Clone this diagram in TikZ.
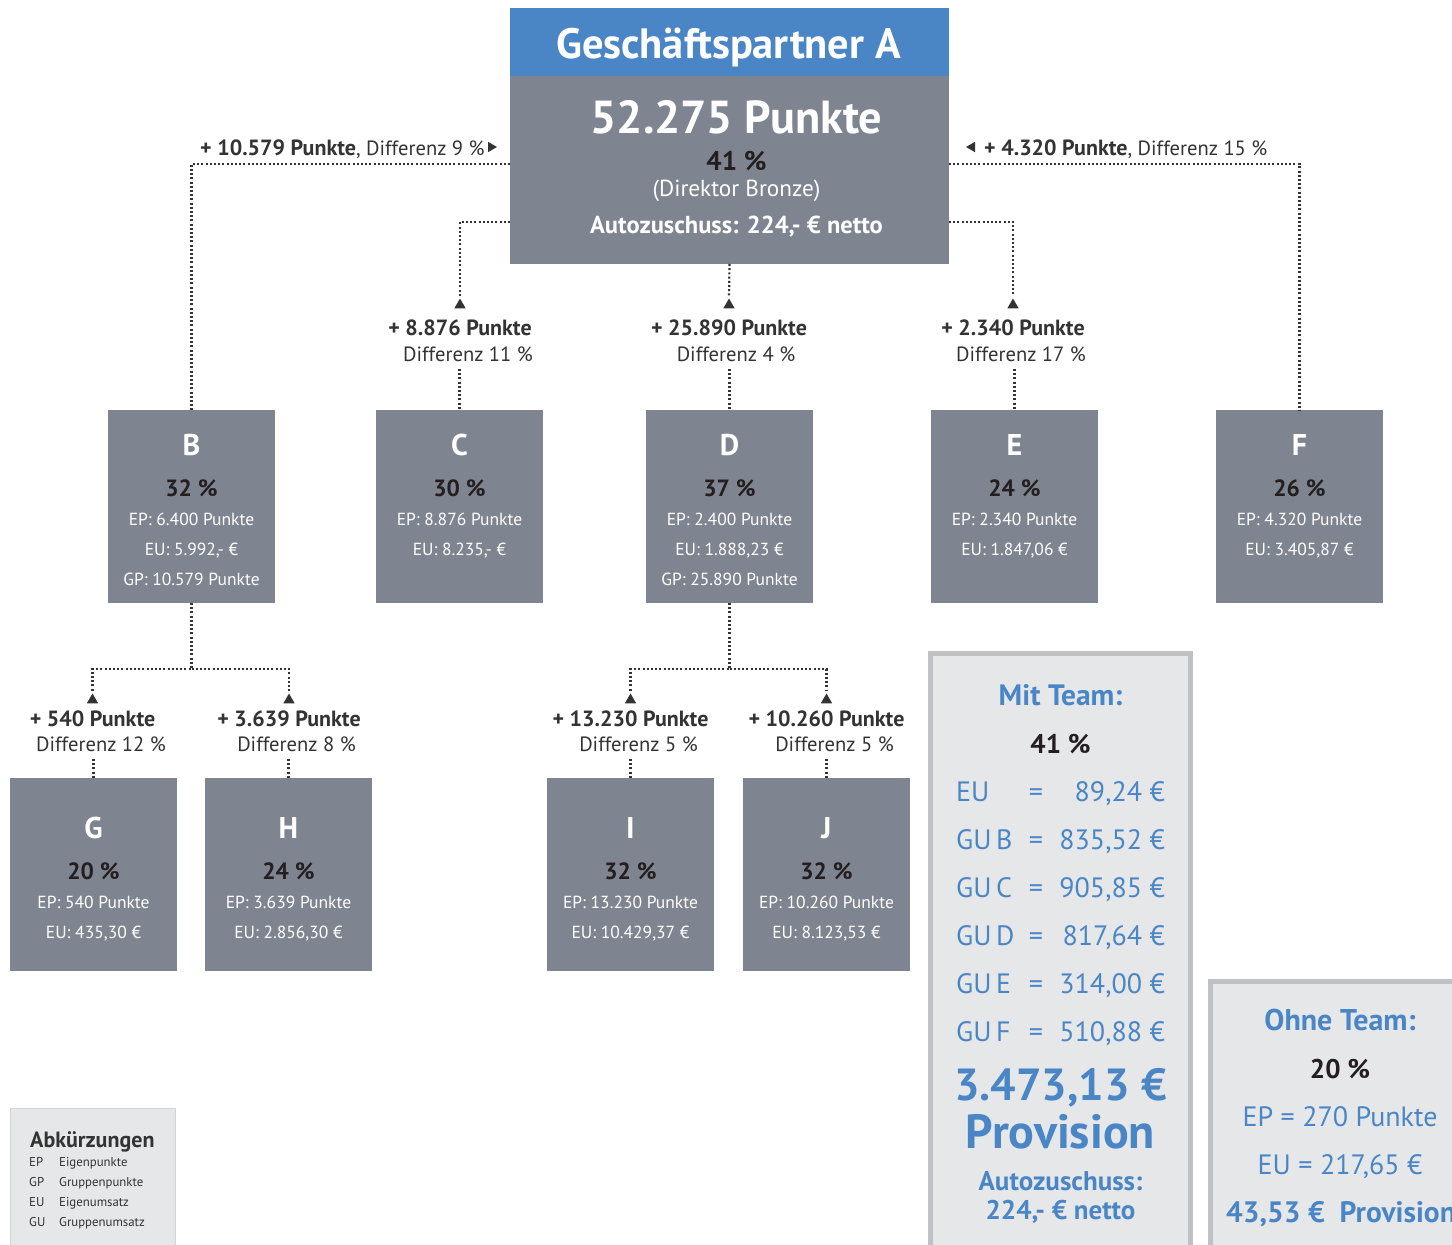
\documentclass[tikz,border=0pt]{standalone}
\usepackage{fontspec}
\setmainfont{PT Sans}
\usetikzlibrary{calc,shapes.geometric}
\definecolor{hdrblue}{HTML}{4A86C5}
\definecolor{boxgray}{HTML}{7E8490}
\definecolor{txtdark}{HTML}{231F20}
\definecolor{lblclr}{HTML}{333333}
\definecolor{panelfill}{HTML}{E6E7E9}
\definecolor{panelline}{HTML}{BFC1C5}
\definecolor{bluetxt}{HTML}{4A86C5}
\newcommand\fs[1]{\fontsize{#1}{#1}\selectfont}
\newcommand\filltexts[5]{%
  \node[ltr, anchor=base] (#1-l) at ($(#1.north)+(0,#2)$) {#3};
  \node[pct, anchor=base] (#1-p) at ($(#1.north)+(0,#2+41.5)$) {#4};
  \foreach \t [count=\i] in {#5}
    \node[info, anchor=base] (#1-i\i) at ($(#1.north)+(0,#2+70+30*\i-30)$) {\t};
}
\newcommand\mrow[4]{%
  \node[mrowt, anchor=base west] (m#1a) at (956,#2) {#3};
  \node[mrowt, anchor=base] (m#1b) at (1036,#2) {=};
  \node[mrowt, anchor=base east] (m#1c) at (1165,#2) {#4};
}
\begin{document}
\begin{tikzpicture}[x=1pt,y=-1pt,
  conn/.style={draw=lblclr, line width=2.2pt, dash pattern=on 2pt off 2.2pt},
  tri/.style={regular polygon, regular polygon sides=3, fill=lblclr, inner sep=0pt, outer sep=0pt, minimum size=13pt},
  pbox/.style={fill=boxgray, minimum width=167pt, minimum height=193pt, inner sep=0pt, outer sep=0pt, anchor=north},
  ltr/.style={text=white, font=\fs{30}\bfseries, inner sep=0pt},
  pct/.style={text=txtdark, font=\fs{23.5}\bfseries, inner sep=0pt},
  info/.style={text=white, font=\fs{17.5}, inner sep=0pt},
  lblb/.style={text=lblclr, font=\fs{22}\bfseries, inner sep=0pt, anchor=base},
  lblr/.style={text=lblclr, font=\fs{20.6}, inner sep=0pt, anchor=base},
  panel/.style={draw=panelline, fill=panelfill, line width=5pt, anchor=north west, inner sep=0pt, outer sep=0pt},
  mrowt/.style={text=bluetxt, font=\fs{28}, inner sep=0pt},
  bluebold/.style={text=bluetxt, font=\bfseries, inner sep=0pt, anchor=base},
]
\useasboundingbox (0,0) rectangle (1452,1245);

% ---------- top box ----------
\node[fill=hdrblue, minimum width=439pt, minimum height=68pt, inner sep=0pt, outer sep=0pt, anchor=north west] (Ahead) at (510,8) {};
\node[fill=boxgray, minimum width=439pt, minimum height=188pt, inner sep=0pt, outer sep=0pt, anchor=north west] (A) at (510,76) {};
\node[text=white, font=\fs{42.4}\bfseries, inner sep=0pt, anchor=base] (Atitle) at (728.5,58) {Geschäftspartner A};
\node[text=white, font=\fs{46.3}\bfseries, inner sep=0pt, anchor=base] (Apts) at (736.5,133) {52.275 Punkte};
\node[pct, font=\fs{27}\bfseries, anchor=base] (Apct) at (736.5,170) {41 \%};
\node[text=white, font=\fs{23.2}, inner sep=0pt, anchor=base] (Arank) at (736.5,196) {(Direktor Bronze)};
\node[text=white, font=\fs{24.5}\bfseries, inner sep=0pt, anchor=base] (Aauto) at (736.5,233) {Autozuschuss: 224,- € netto};

% ---------- level 2 boxes ----------
\node[pbox] (B) at (191.5,410) {};
\node[pbox] (C) at (459.5,410) {};
\node[pbox] (D) at (729.5,410) {};
\node[pbox] (E) at (1014.5,410) {};
\node[pbox] (F) at (1299.5,410) {};
\filltexts{B}{45}{B}{32 \%}{EP: 6.400 Punkte, {EU: 5.992,- €}, GP: 10.579 Punkte}
\filltexts{C}{45}{C}{30 \%}{EP: 8.876 Punkte, {EU: 8.235,- €}}
\filltexts{D}{45}{D}{37 \%}{EP: 2.400 Punkte, {EU: 1.888,23 €}, GP: 25.890 Punkte}
\filltexts{E}{45}{E}{24 \%}{EP: 2.340 Punkte, {EU: 1.847,06 €}}
\filltexts{F}{45}{F}{26 \%}{EP: 4.320 Punkte, {EU: 3.405,87 €}}

% ---------- level 3 boxes ----------
\node[pbox] (G) at (93.5,778) {};
\node[pbox] (H) at (288.5,778) {};
\node[pbox] (I) at (630.5,778) {};
\node[pbox] (J) at (826.5,778) {};
\filltexts{G}{60}{G}{20 \%}{EP: 540 Punkte, {EU: 435,30 €}}
\filltexts{H}{60}{H}{24 \%}{EP: 3.639 Punkte, {EU: 2.856,30 €}}
\filltexts{I}{60}{I}{32 \%}{EP: 13.230 Punkte, {EU: 10.429,37 €}}
\filltexts{J}{60}{J}{32 \%}{EP: 10.260 Punkte, {EU: 8.123,53 €}}

% ---------- labels ----------
\node[text=lblclr, font=\fs{20.6}, inner sep=0pt, anchor=base west] (lB) at (200,155) {{\fs{22}\bfseries + 10.579 Punkte}, Differenz 9 \%};
\node[tri, shape border rotate=-90, minimum size=12pt] (tB) at (491,147) {};
\node[tri, shape border rotate=90, minimum size=12pt] (tF) at (972,147) {};
\node[text=lblclr, font=\fs{20.6}, inner sep=0pt, anchor=base west] (lF) at (984,155) {{\fs{22}\bfseries + 4.320 Punkte}, Differenz 15 \%};

\node[lblb] (lC1) at (460,335) {+ 8.876 Punkte};
\node[lblr] (lC2) at (468,361) {Differenz 11 \%};
\node[lblb] (lD1) at (729,335) {+ 25.890 Punkte};
\node[lblr] (lD2) at (736,361) {Differenz 4 \%};
\node[lblb] (lE1) at (1013,335) {+ 2.340 Punkte};
\node[lblr] (lE2) at (1021,361) {Differenz 17 \%};
\node[tri] (tC) at (460,305) {};
\node[tri] (tD) at (729,305) {};
\node[tri] (tE) at (1013,305) {};

\node[lblb] (lG1) at (92.5,726) {+ 540 Punkte};
\node[lblr] (lG2) at (101,751) {Differenz 12 \%};
\node[lblb] (lH1) at (289,726) {+ 3.639 Punkte};
\node[lblr] (lH2) at (296.5,751) {Differenz 8 \%};
\node[lblb] (lI1) at (630.5,726) {+ 13.230 Punkte};
\node[lblr] (lI2) at (638.5,751) {Differenz 5 \%};
\node[lblb] (lJ1) at (826.5,726) {+ 10.260 Punkte};
\node[lblr] (lJ2) at (834.5,751) {Differenz 5 \%};
\node[tri] (tG) at (92.5,700) {};
\node[tri] (tH) at (289,700) {};
\node[tri] (tI) at (630.5,700) {};
\node[tri] (tJ) at (826.5,700) {};

% ---------- connectors ----------
\coordinate (aL1) at ($(A.north west)+(0,88)$);
\coordinate (aR1) at ($(A.north east)+(0,88)$);
\coordinate (aL2) at ($(A.north west)+(0,146)$);
\coordinate (aR2) at ($(A.north east)+(0,146)$);
\draw[conn] (aL1) -| (B.north);
\draw[conn] (aR1) -| (F.north);
\draw[conn, shorten >=3pt] (aL2) -| (tC.north);
\draw[conn, shorten >=3pt] (aR2) -| (tE.north);
\draw[conn, shorten >=3pt] (A.south) -- (tD.north);
\draw[conn, shorten <=8pt] (C.north |- lC2.base) -- (C.north);
\draw[conn, shorten <=8pt] (D.north |- lD2.base) -- (D.north);
\draw[conn, shorten <=8pt] (E.north |- lE2.base) -- (E.north);

\coordinate (bj) at ($(B.south)+(0,66)$);
\coordinate (dj) at ($(D.south)+(0,66)$);
\draw[conn] (B.south) -- (bj);
\draw[conn, shorten <=3pt] (tG.north) |- (bj);
\draw[conn, shorten >=3pt] (bj) -| (tH.north);
\draw[conn] (D.south) -- (dj);
\draw[conn, shorten <=3pt] (tI.north) |- (dj);
\draw[conn, shorten >=3pt] (dj) -| (tJ.north);
\draw[conn, shorten <=8pt] (G.north |- lG2.base) -- (G.north);
\draw[conn, shorten <=8pt] (H.north |- lH2.base) -- (H.north);
\draw[conn, shorten <=8pt] (I.north |- lI2.base) -- (I.north);
\draw[conn, shorten <=8pt] (J.north |- lJ2.base) -- (J.north);

% ---------- Mit Team panel ----------
\node[panel, minimum width=260pt, minimum height=620pt] (mit) at (930.5,653.5) {};
\node[bluebold, font=\fs{29.5}\bfseries] (mitT) at (1060.5,705) {Mit Team:};
\node[pct, font=\fs{27}\bfseries, anchor=base] (mitP) at (1060.5,753) {41 \%};
\mrow{1}{801}{EU}{89,24 €}
\mrow{2}{849}{GU\,B}{835,52 €}
\mrow{3}{897}{GU\,C}{905,85 €}
\mrow{4}{945}{GU\,D}{817,64 €}
\mrow{5}{993}{GU\,E}{314,00 €}
\mrow{6}{1041}{GU\,F}{510,88 €}
\node[bluebold, font=\fs{45}\bfseries] (mitSum) at (1060.5,1100) {3.473,13 €};
\node[bluebold, font=\fs{48}\bfseries] (mitProv) at (1060.5,1148) {Provision};
\node[bluebold, font=\fs{27}\bfseries] (mitA1) at (1060.5,1190) {Autozuschuss:};
\node[bluebold, font=\fs{27}\bfseries] (mitA2) at (1060.5,1219) {224,- € netto};

% ---------- Ohne Team panel ----------
\node[panel, minimum width=260pt, minimum height=300pt] (ohne) at (1210.5,981.5) {};
\node[bluebold, font=\fs{30}\bfseries] (ohT) at (1340,1030) {Ohne Team:};
\node[pct, font=\fs{27}\bfseries, anchor=base] (ohP) at (1340,1078) {20 \%};
\node[bluebold, font=\fs{28}] (ohEP) at (1340,1126) {EP = 270 Punkte};
\node[bluebold, font=\fs{28}] (ohEU) at (1340,1174) {EU = 217,65 €};
\node[bluebold, font=\fs{29.5}\bfseries, anchor=base west] (ohProv) at (1226,1222) {43,53 €\ \ Provision};

% ---------- Abkuerzungen ----------
\node[draw=panelline!70, fill=panelfill, line width=1.5pt, anchor=north west, minimum width=165pt, minimum height=150pt, inner sep=0pt, outer sep=0pt] (abk) at (10.5,1108.5) {};
\node[text=lblclr, font=\fs{22}\bfseries, inner sep=0pt, anchor=base west] (abkT) at (30,1147) {Abkürzungen};
\foreach \ab/\wrd [count=\i] in {EP/Eigenpunkte, GP/Gruppenpunkte, EU/Eigenumsatz, GU/Gruppenumsatz} {
  \node[text=lblclr, font=\fs{12.8}, inner sep=0pt, anchor=base west] (abkA\i) at (29,1146+20*\i) {\ab};
  \node[text=lblclr, font=\fs{12.8}, inner sep=0pt, anchor=base west] (abkW\i) at (59,1146+20*\i) {\wrd};
}
\end{tikzpicture}
\end{document}
